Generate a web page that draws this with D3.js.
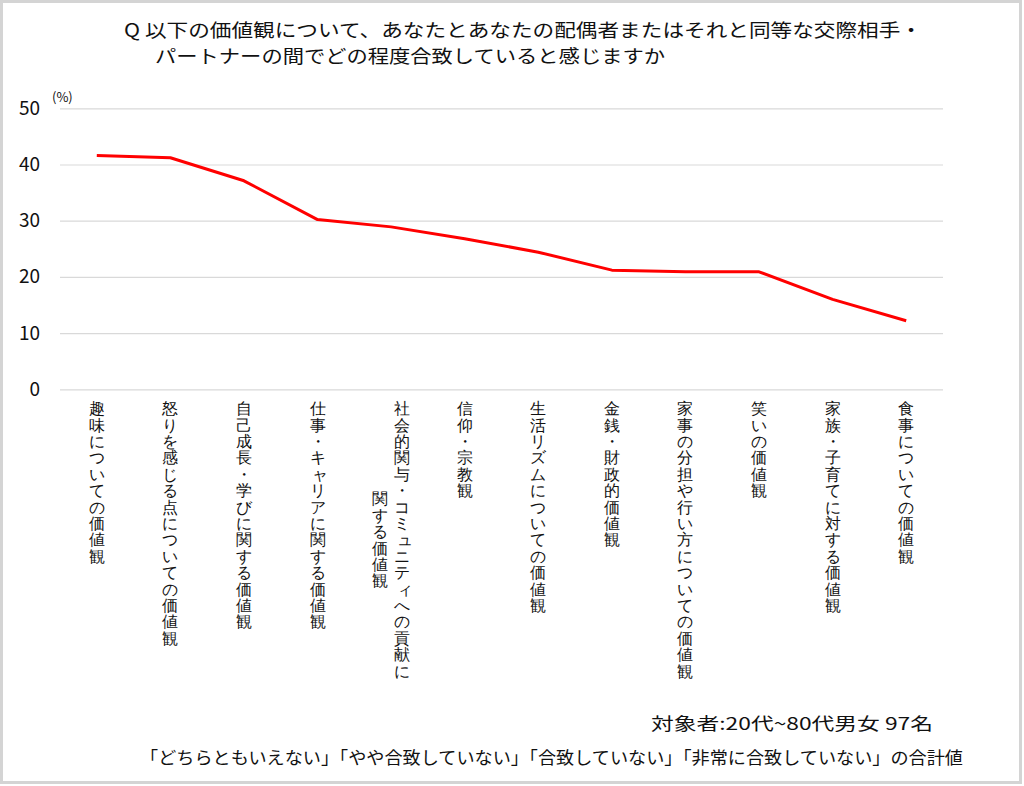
<!DOCTYPE html>
<html>
<head>
<meta charset="utf-8">
<script src="https://cdn.jsdelivr.net/npm/d3@7"></script>
<style>
  html, body { margin: 0; padding: 0; background: #fff; }
  svg { display: block; font-family: "Noto Sans CJK JP", "Noto Sans", sans-serif; }
</style>
</head>
<body>
<svg id="chart" width="1024" height="786"></svg>
<script>
// ---- data ----
const categories = [
  "趣味についての価値観",
  "怒りを感じる点についての価値観",
  "自己成長・学びに関する価値観",
  "仕事・キャリアに関する価値観",
  "社会的関与・コミュニティへの貢献に\n関する価値観",
  "信仰・宗教観",
  "生活リズムについての価値観",
  "金銭・財政的価値観",
  "家事の分担や行い方についての価値観",
  "笑いの価値観",
  "家族・子育てに対する価値観",
  "食事についての価値観"
];
const values = [41.6, 41.2, 37.1, 30.2, 28.9, 26.8, 24.4, 21.2, 20.9, 20.9, 16.0, 12.2];
const yTicks = [0, 10, 20, 30, 40, 50];
const titleLines = [
  "Q 以下の価値観について、あなたとあなたの配偶者またはそれと同等な交際相手・",
  "パートナーの間でどの程度合致していると感じますか"
];
const noteLines = [
  "対象者:20代~80代男女 97名",
  "「どちらともいえない」「やや合致していない」「合致していない」「非常に合致していない」の合計値"
];
const unitLabel = "(%)";

// ---- layout ----
const svg = d3.select("#chart");
const plotLeft = 60, plotRight = 943, plotTop = 108.3, plotBottom = 389.3;

svg.append("rect")
  .attr("x", 1.5).attr("y", 1.5).attr("width", 1019).attr("height", 781)
  .attr("fill", "#fff").attr("stroke", "#d4d4d4").attr("stroke-width", 3);

const x = d3.scaleBand().domain(categories).range([plotLeft, plotRight]).padding(0);
const y = d3.scaleLinear().domain([0, 50]).range([plotBottom, plotTop]);

// grid + y axis
const yAxis = svg.append("g")
  .attr("transform", `translate(${plotLeft},0)`)
  .call(d3.axisLeft(y).tickValues(yTicks).tickSize(-(plotRight - plotLeft)).tickPadding(20));
yAxis.select(".domain").remove();
yAxis.selectAll(".tick line").attr("stroke", "#d9d9d9").attr("stroke-width", 1.2);
yAxis.selectAll(".tick text")
  .attr("font-size", 19).attr("fill", "#111")
  .attr("font-family", "'Noto Sans CJK JP', sans-serif");

svg.append("text")
  .attr("x", 52).attr("y", 102)
  .attr("font-size", 13).attr("fill", "#111")
  .text(unitLabel);

// x axis labels (vertical, one tspan per character)
const xAxis = svg.append("g")
  .attr("transform", `translate(0,${plotBottom})`)
  .call(d3.axisBottom(x).tickSize(0).tickFormat(d => d));
xAxis.select(".domain").remove();

const fs = 16, adv = 16.4, lineGap = 22, labelTop = 400;
const smallKana = "ァィゥェォャュョッぁぃぅぇぉゃゅょっ";
xAxis.selectAll(".tick").each(function(d) {
  const g = d3.select(this);
  const lines = d.split("\n");
  const maxLen = d3.max(lines, l => l.length);
  const t = g.select("text")
    .text(null)
    .attr("y", null).attr("dy", null)
    .attr("font-size", fs)
    .attr("fill", "#111")
    .attr("text-anchor", "middle");
  lines.forEach((line, i) => {
    const off = ((lines.length - 1) / 2 - i) * lineGap;
    const start = (labelTop - plotBottom) + (maxLen - line.length) * adv / 2;
    Array.from(line).forEach((ch, k) => {
      const small = smallKana.includes(ch);
      t.append("tspan")
        .attr("x", off + (small ? 2.5 : 0))
        .attr("y", start + (k + 0.86) * adv)
        .text(ch);
    });
  });
});

// line
const line = d3.line()
  .x((d, i) => x(categories[i]) + x.bandwidth() / 2)
  .y(d => y(d));
svg.append("path")
  .datum(values)
  .attr("d", line)
  .attr("fill", "none")
  .attr("stroke", "#ff0000")
  .attr("stroke-width", 3)
  .attr("stroke-linejoin", "round");

// title
svg.append("text").attr("x", 124).attr("y", 37)
  .attr("font-size", 18.5).attr("fill", "#111")
  .attr("textLength", 798).attr("lengthAdjust", "spacingAndGlyphs")
  .text(titleLines[0]);
svg.append("text").attr("x", 155).attr("y", 63)
  .attr("font-size", 18.5).attr("fill", "#111")
  .attr("textLength", 510).attr("lengthAdjust", "spacingAndGlyphs")
  .text(titleLines[1]);

// notes
svg.append("text").attr("x", 651).attr("y", 730)
  .attr("font-size", 17).attr("fill", "#111")
  .attr("textLength", 282).attr("lengthAdjust", "spacingAndGlyphs")
  .text(noteLines[0]);
svg.append("text").attr("x", 140).attr("y", 764)
  .attr("font-size", 17).attr("fill", "#111")
  .attr("textLength", 823).attr("lengthAdjust", "spacingAndGlyphs")
  .text(noteLines[1]);
</script>
</body>
</html>
